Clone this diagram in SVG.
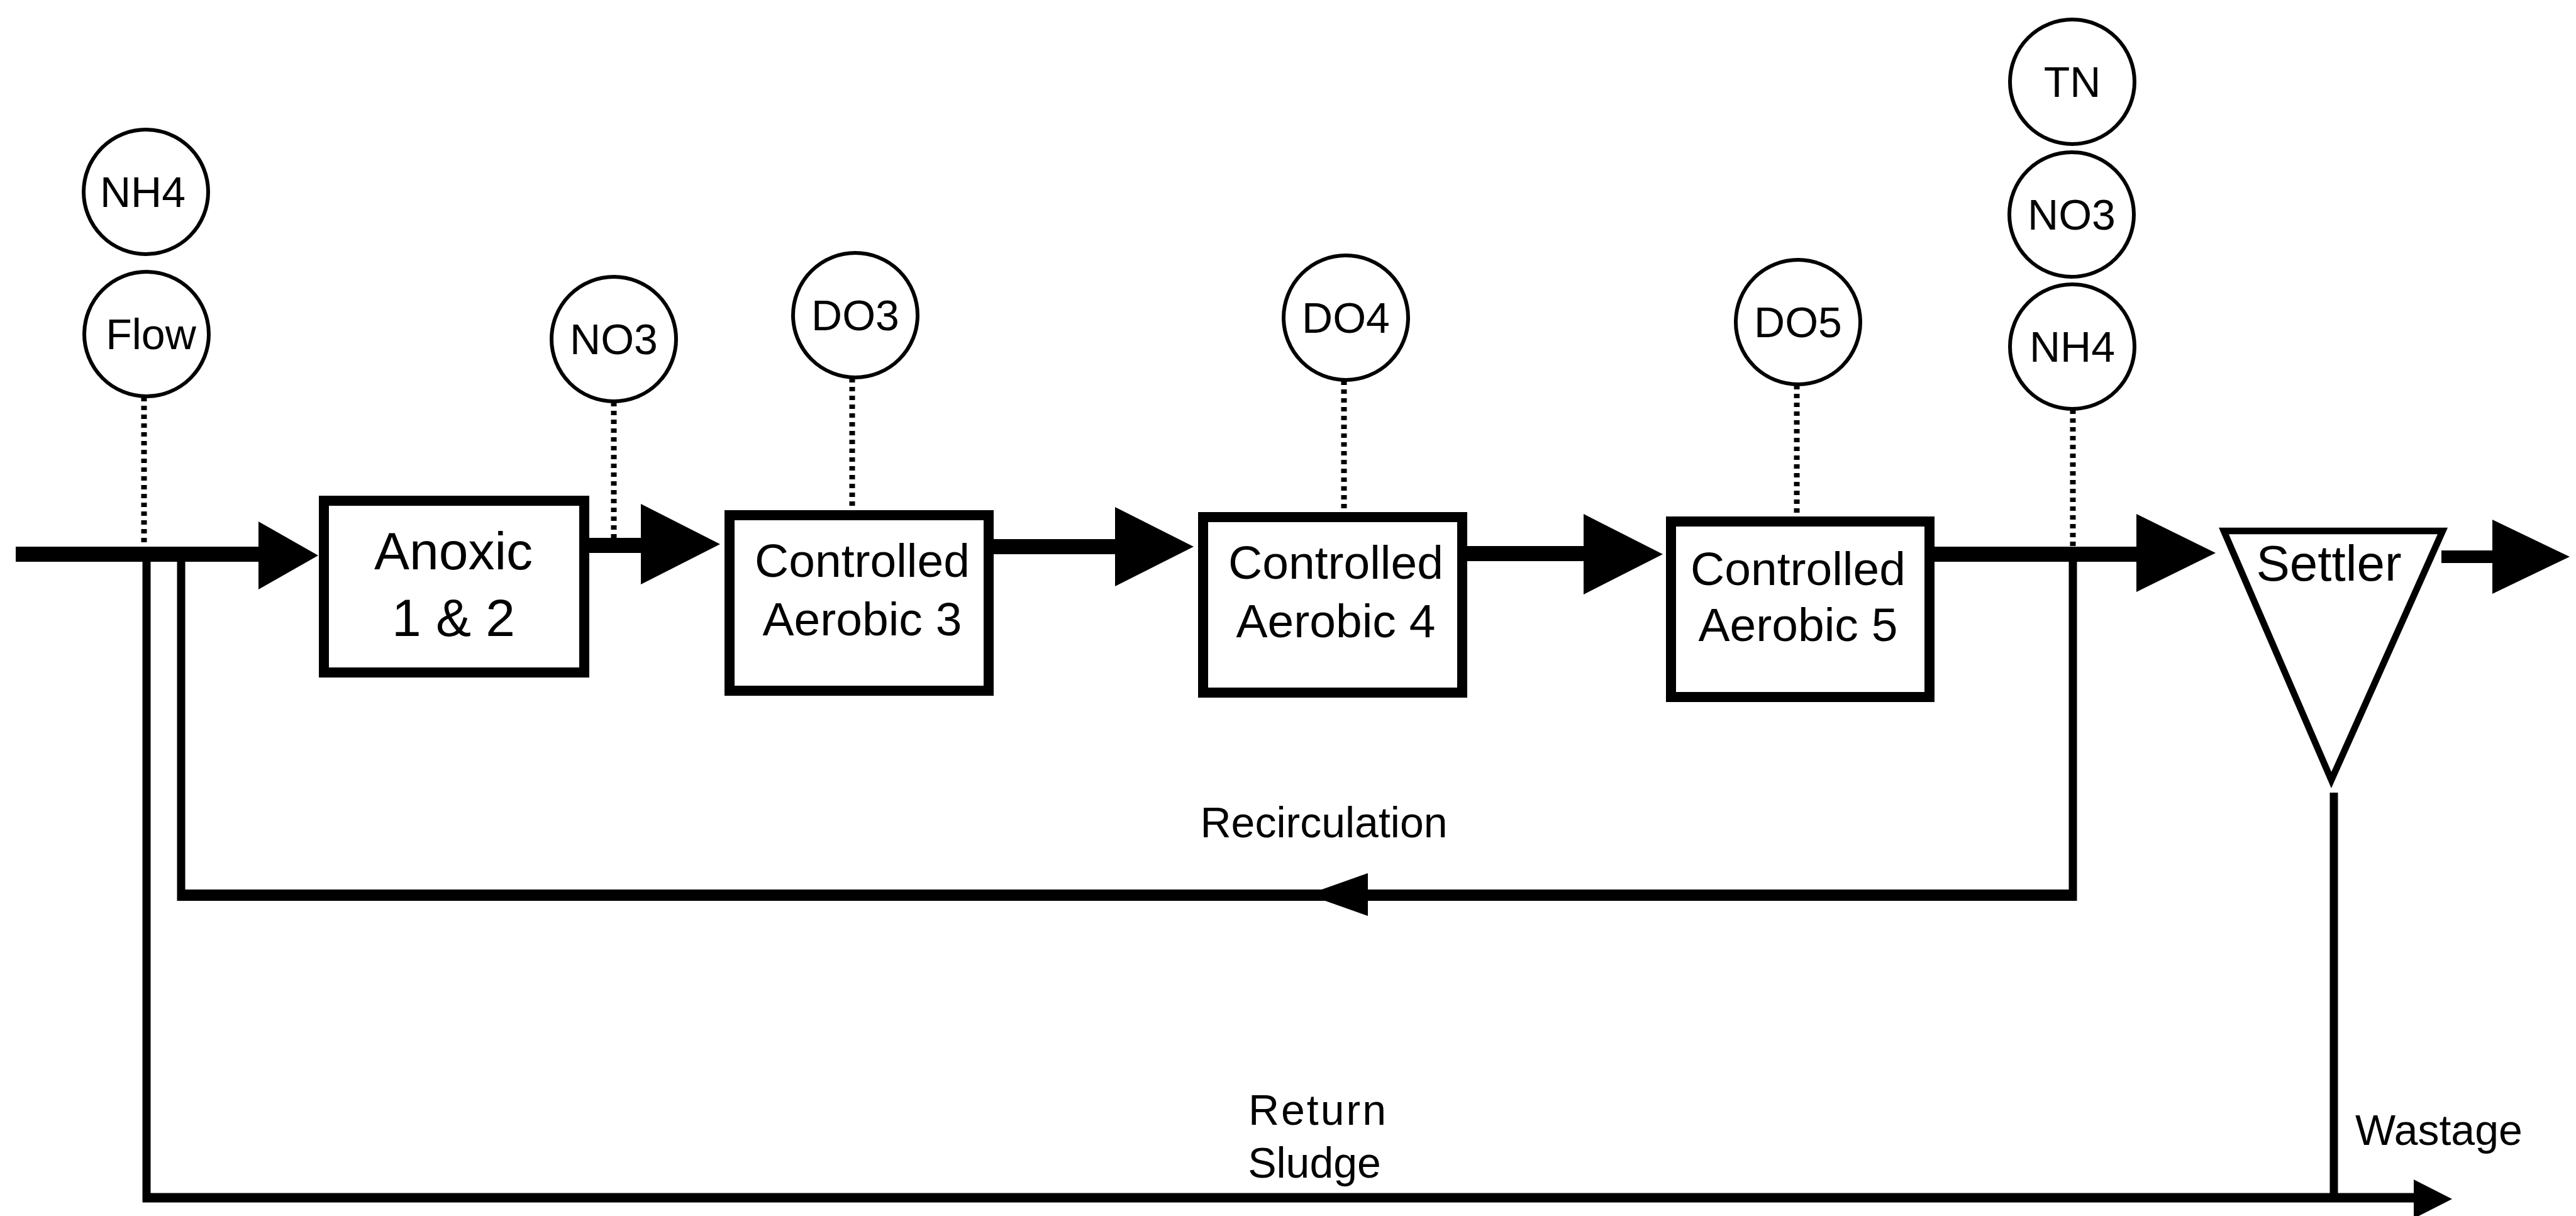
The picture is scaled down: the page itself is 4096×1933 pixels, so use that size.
<svg xmlns="http://www.w3.org/2000/svg" width="4096" height="1933" viewBox="0 0 4096 1933">
  <style>
    .bg { fill: #ffffff; }
    .sensor { fill: #ffffff; stroke: #000000; stroke-width: 6; }
    .tank { fill: #ffffff; stroke: #000000; stroke-width: 16; }
    .settler { fill: #ffffff; stroke: #000000; stroke-width: 10.5; stroke-linejoin: miter; }
    .flow { fill: none; stroke: #000000; stroke-width: 24; }
    .pipe { fill: none; stroke: #000000; stroke-width: 13; }
    .recycle { fill: none; stroke: #000000; stroke-width: 18; }
    .sludge { fill: none; stroke: #000000; stroke-width: 15; }
    .probe { fill: none; stroke: #000000; stroke-width: 9; stroke-dasharray: 7 7; }
    .head { fill: #000000; stroke: none; }
    text { font-family: "Liberation Sans", Arial, sans-serif; fill: #000000; text-anchor: middle; }
    .lbl { font-size: 68px; }
    .tanklbl { font-size: 75px; }
    .big { font-size: 84px; }
    .note { font-size: 68px; }
  </style>

  <rect class="bg" x="0" y="0" width="4096" height="1933"/>

  <!-- process lines, recycle lines and probe leads -->
  <g id="connectors">
    <!-- main stream -->
    <line class="flow" x1="25" y1="881" x2="413" y2="881"/>
    <polygon class="head" points="411,829 506,883 411,937"/>
    <line class="flow" x1="936" y1="867" x2="1021" y2="867"/>
    <polygon class="head" points="1019,801 1145,865 1019,929"/>
    <line class="flow" x1="1580" y1="869" x2="1775" y2="869"/>
    <polygon class="head" points="1773,806 1898,869 1773,932"/>
    <line class="flow" x1="2333" y1="880" x2="2520" y2="880"/>
    <polygon class="head" points="2518,817 2644,881 2518,945"/>
    <line class="flow" x1="3075" y1="881" x2="3399" y2="881"/>
    <polygon class="head" points="3397,817 3523,879 3397,941"/>
    <line class="flow" x1="3882" y1="885" x2="3965" y2="885" style="stroke-width:20"/>
    <polygon class="head" points="3963,826 4086,885 3963,944"/>

    <!-- internal recirculation -->
    <line class="pipe" x1="3296" y1="881" x2="3296" y2="1432"/>
    <line class="recycle" x1="3302" y1="1423" x2="282" y2="1423"/>
    <line class="pipe" x1="288" y1="881" x2="288" y2="1432"/>
    <polygon class="head" points="2175,1388 2079,1422 2175,1456"/>

    <!-- return sludge and wastage -->
    <line class="pipe" x1="233" y1="881" x2="233" y2="1911"/>
    <line class="sludge" x1="227" y1="1904" x2="3840" y2="1904"/>
    <polygon class="head" points="3838,1875 3899,1906 3838,1937"/>
    <line class="pipe" x1="3711" y1="1260" x2="3711" y2="1911"/>

    <!-- probe leads -->
    <line class="probe" x1="229" y1="631" x2="229" y2="869"/>
    <line class="probe" x1="976" y1="639" x2="976" y2="856"/>
    <line class="probe" x1="1355" y1="601" x2="1355" y2="813"/>
    <line class="probe" x1="2137" y1="605" x2="2137" y2="816"/>
    <line class="probe" x1="2857" y1="612" x2="2857" y2="823"/>
    <line class="probe" x1="3296" y1="651" x2="3296" y2="869"/>
  </g>

  <!-- tanks -->
  <g id="anoxic-1-2">
    <rect class="tank" x="515" y="796" width="414" height="273"/>
    <text class="big" x="721" y="905">Anoxic</text>
    <text class="big" x="721" y="1011">1 &amp; 2</text>
  </g>
  <g id="aerobic-3">
    <rect class="tank" x="1160" y="819" width="412" height="279"/>
    <text class="tanklbl" x="1371" y="917">Controlled</text>
    <text class="tanklbl" x="1371" y="1010">Aerobic 3</text>
  </g>
  <g id="aerobic-4">
    <rect class="tank" x="1913" y="822" width="412" height="279"/>
    <text class="tanklbl" x="2124" y="920">Controlled</text>
    <text class="tanklbl" x="2124" y="1013">Aerobic 4</text>
  </g>
  <g id="aerobic-5">
    <rect class="tank" x="2657" y="829" width="411" height="279"/>
    <text class="tanklbl" x="2859" y="930">Controlled</text>
    <text class="tanklbl" x="2859" y="1019">Aerobic 5</text>
  </g>
  <g id="settler">
    <polygon class="settler" points="3536,844 3884,844 3707,1240"/>
    <text x="3703" y="923" style="font-size:80px">Settler</text>
  </g>

  <!-- sensors -->
  <g id="sensor-nh4-in">
    <circle class="sensor" cx="232" cy="305" r="99"/>
    <text class="lbl" x="227" y="329">NH4</text>
  </g>
  <g id="sensor-flow">
    <circle class="sensor" cx="233" cy="531" r="99"/>
    <text class="lbl" x="240" y="555">Flow</text>
  </g>
  <g id="sensor-no3-anoxic">
    <circle class="sensor" cx="976" cy="539" r="99"/>
    <text class="lbl" x="976" y="563">NO3</text>
  </g>
  <g id="sensor-do3">
    <circle class="sensor" cx="1360" cy="501" r="99"/>
    <text class="lbl" x="1360" y="525">DO3</text>
  </g>
  <g id="sensor-do4">
    <circle class="sensor" cx="2140" cy="505" r="99"/>
    <text class="lbl" x="2140" y="529">DO4</text>
  </g>
  <g id="sensor-do5">
    <circle class="sensor" cx="2859" cy="512" r="99"/>
    <text class="lbl" x="2859" y="536">DO5</text>
  </g>
  <g id="sensor-tn">
    <circle class="sensor" cx="3295" cy="130" r="99"/>
    <text class="lbl" x="3295" y="154">TN</text>
  </g>
  <g id="sensor-no3-out">
    <circle class="sensor" cx="3294" cy="341" r="99"/>
    <text class="lbl" x="3294" y="365">NO3</text>
  </g>
  <g id="sensor-nh4-out">
    <circle class="sensor" cx="3295" cy="551" r="99"/>
    <text class="lbl" x="3295" y="575">NH4</text>
  </g>

  <!-- line labels -->
  <g id="labels">
    <text class="note" x="2105" y="1331">Recirculation</text>
    <text class="note" x="2096" y="1788" style="letter-spacing:3px">Return</text>
    <text class="note" x="2090" y="1872">Sludge</text>
    <text class="note" x="3745" y="1820" style="text-anchor:start">Wastage</text>
  </g>
</svg>
